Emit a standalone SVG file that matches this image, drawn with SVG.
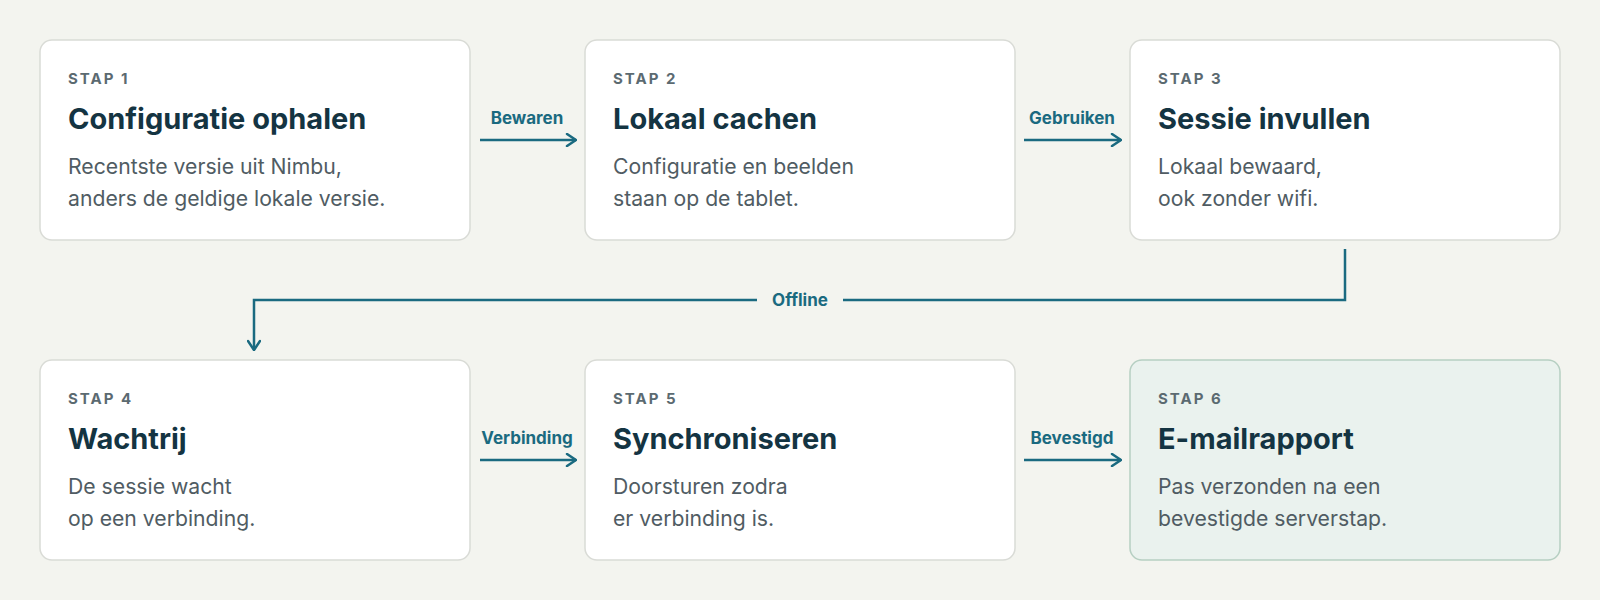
<svg xmlns="http://www.w3.org/2000/svg" width="1600" height="600" viewBox="0 0 1600 600">
<defs>
<style>
.bg{fill:#f3f4ef}
.card{fill:#ffffff;stroke:#d9dbd6;stroke-width:1.5}
.card.final{fill:#eaf2ee;stroke:#b6cfc2}
.step{font-family:Inter,"Noto Sans",sans-serif;font-size:15px;font-weight:700;letter-spacing:2px;fill:#5b6a71}
.title{font-family:Inter,"Noto Sans",sans-serif;font-size:29px;font-weight:700;fill:#143442}
.body{font-family:Inter,"Noto Sans",sans-serif;font-size:21.2px;font-weight:400;fill:#505c63}
.lbl{font-family:Inter,"Noto Sans",sans-serif;font-size:17px;font-weight:700;fill:#1a6a80;text-anchor:middle}
.conn{fill:none;stroke:#1a6a80;stroke-width:2.5}
</style>
<marker id="arr" viewBox="0 0 12 14" refX="11" refY="7" markerWidth="12" markerHeight="14" markerUnits="userSpaceOnUse" orient="auto">
<path d="M2,1 L11,7 L2,13" fill="none" stroke="#1a6a80" stroke-width="2.5" stroke-linecap="round" stroke-linejoin="round"/>
</marker>
</defs>
<rect class="bg" x="0" y="0" width="1600" height="600"/>

<g id="connectors">
<line class="conn" x1="480" y1="140" x2="576" y2="140" marker-end="url(#arr)"/>
<text class="lbl" x="527" y="124">Bewaren</text>
<line class="conn" x1="1024" y1="140" x2="1121" y2="140" marker-end="url(#arr)"/>
<text class="lbl" x="1072" y="124">Gebruiken</text>
<path class="conn" d="M1345,249 L1345,300 L843,300"/>
<path class="conn" d="M757,300 L254,300 L254,350" marker-end="url(#arr)"/>
<text class="lbl" x="800" y="306">Offline</text>
<line class="conn" x1="480" y1="460" x2="576" y2="460" marker-end="url(#arr)"/>
<text class="lbl" x="527" y="444">Verbinding</text>
<line class="conn" x1="1024" y1="460" x2="1121" y2="460" marker-end="url(#arr)"/>
<text class="lbl" x="1072" y="444">Bevestigd</text>
</g>

<g id="step1">
<rect class="card" x="40" y="40" width="430" height="200" rx="12"/>
<text class="step" x="68" y="84">STAP 1</text>
<text class="title" x="68" y="129">Configuratie ophalen</text>
<text class="body" x="68" y="174">Recentste versie uit Nimbu,</text>
<text class="body" x="68" y="206">anders de geldige lokale versie.</text>
</g>
<g id="step2">
<rect class="card" x="585" y="40" width="430" height="200" rx="12"/>
<text class="step" x="613" y="84">STAP 2</text>
<text class="title" x="613" y="129">Lokaal cachen</text>
<text class="body" x="613" y="174">Configuratie en beelden</text>
<text class="body" x="613" y="206">staan op de tablet.</text>
</g>
<g id="step3">
<rect class="card" x="1130" y="40" width="430" height="200" rx="12"/>
<text class="step" x="1158" y="84">STAP 3</text>
<text class="title" x="1158" y="129">Sessie invullen</text>
<text class="body" x="1158" y="174">Lokaal bewaard,</text>
<text class="body" x="1158" y="206">ook zonder wifi.</text>
</g>
<g id="step4">
<rect class="card" x="40" y="360" width="430" height="200" rx="12"/>
<text class="step" x="68" y="404">STAP 4</text>
<text class="title" x="68" y="449">Wachtrij</text>
<text class="body" x="68" y="494">De sessie wacht</text>
<text class="body" x="68" y="526">op een verbinding.</text>
</g>
<g id="step5">
<rect class="card" x="585" y="360" width="430" height="200" rx="12"/>
<text class="step" x="613" y="404">STAP 5</text>
<text class="title" x="613" y="449">Synchroniseren</text>
<text class="body" x="613" y="494">Doorsturen zodra</text>
<text class="body" x="613" y="526">er verbinding is.</text>
</g>
<g id="step6">
<rect class="card final" x="1130" y="360" width="430" height="200" rx="12"/>
<text class="step" x="1158" y="404">STAP 6</text>
<text class="title" x="1158" y="449">E-mailrapport</text>
<text class="body" x="1158" y="494">Pas verzonden na een</text>
<text class="body" x="1158" y="526">bevestigde serverstap.</text>
</g>
</svg>
